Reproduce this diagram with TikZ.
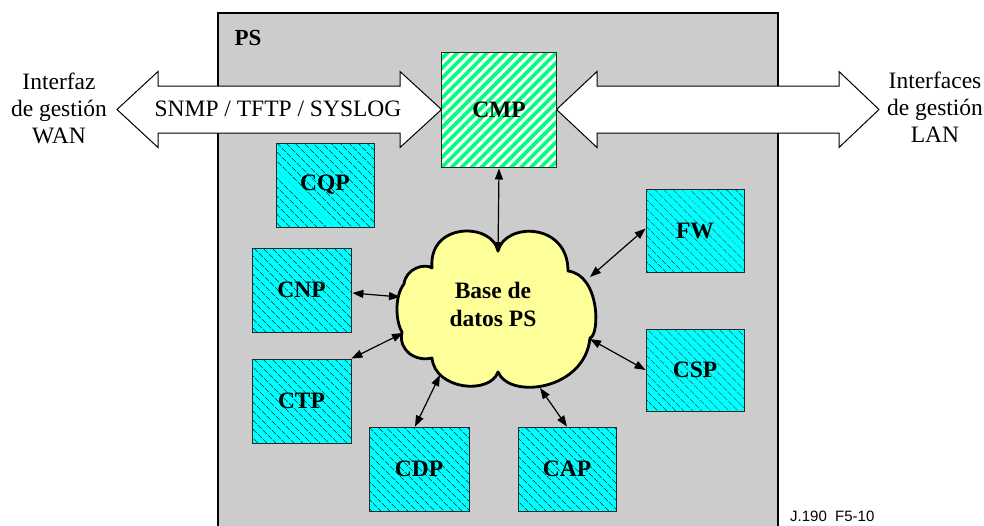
\documentclass[tikz,border=0pt]{standalone}
\usepackage{fontspec}
\setmainfont{Liberation Serif}
\newfontfamily\sansf{Liberation Sans}
\usetikzlibrary{patterns.meta,arrows.meta,calc}
\definecolor{psgray}{HTML}{CCCCCC}
\definecolor{cmpgreen}{HTML}{00FF80}
\definecolor{cloudy}{HTML}{FFFF99}
\definecolor{boxcyan}{HTML}{00FFFF}
\begin{document}
\begin{tikzpicture}[x=1pt,y=-1pt,
  unitbox/.style={draw=black!85, line width=0.8pt, minimum width=98pt, minimum height=84pt, inner sep=0pt,
    font=\bfseries\fontsize{23.5}{27}\selectfont,
    preaction={fill=boxcyan},
    pattern={Lines[angle=-45,distance=6.5pt,line width=0.5pt]}, pattern color=black},
  cmpbox/.style={draw=black!85, line width=0.8pt, minimum width=115pt, minimum height=115pt, inner sep=0pt,
    font=\bfseries\fontsize{23.5}{27}\selectfont,
    preaction={fill=cmpgreen},
    pattern={Lines[angle=45,distance=7pt,line width=3pt]}, pattern color=white},
  bigarrow/.style={draw=black, line width=1pt, fill=white},
  lbl/.style={font=\fontsize{23.5}{27}\selectfont, align=center, inner sep=0pt},
  link/.style={line width=1.2pt, {Triangle[length=11pt,width=8pt]}-{Triangle[length=11pt,width=8pt]}}
]
\useasboundingbox (0,0) rectangle (984,525);
\clip (0,0) rectangle (984,525);
% PS area
\draw[fill=psgray, line width=1.2pt] (218,13) rectangle (778,560);
\node[font=\bfseries\fontsize{23}{27}\selectfont, inner sep=0pt] (ps) at (248,38) {PS};
% big arrows
\draw[bigarrow] (117,109.5) -- (158,71.5) -- (158,86) -- (400,86) -- (400,71.5) -- (441.5,109.5)
  -- (400,147.5) -- (400,133) -- (158,133) -- (158,147.5) -- cycle;
\draw[bigarrow] (556.5,109.5) -- (597,71.5) -- (597,86) -- (839,86) -- (839,71.5) -- (879,109.5)
  -- (839,147.5) -- (839,133) -- (597,133) -- (597,147.5) -- cycle;
\node[lbl] (proto) at (278,109) {SNMP / TFTP / SYSLOG};
\node[lbl] (wan) at (59,108) {Interfaz\\de gestión\\WAN};
\node[lbl] (lan) at (935,107) {Interfaces\\de gestión\\LAN};
% boxes
\node[cmpbox] (CMP) at (499,109.5) {CMP};
\node[unitbox] (CQP) at (325,185) {CQP};
\node[unitbox, minimum width=99pt] (CNP) at (301.5,290) {CNP};
\node[unitbox, minimum width=99pt] (CTP) at (301.5,401) {CTP};
\node[unitbox, minimum width=100pt] (CDP) at (419,469) {CDP};
\node[unitbox] (CAP) at (567,469) {CAP};
\node[unitbox, minimum height=83pt] (FW) at (695,230.5) {FW};
\node[unitbox, minimum height=82pt] (CSP) at (695,370) {CSP};
% cloud
\draw[fill=cloudy, line width=2.8pt, line join=round]
  (498,251) .. controls (505,222) and (568,222) .. (568,271)
  .. controls (600,275) and (600,335) .. (590,338)
  .. controls (585,390) and (510,400) .. (498,372)
  .. controls (490,395) and (435,390) .. (432,358)
  .. controls (415,362) and (398,350) .. (402,332)
  .. controls (395,320) and (395,295) .. (404,284)
  .. controls (406,268) and (425,263) .. (432,268)
  .. controls (428,222) and (492,222) .. (498,251) -- cycle;
\node[lbl, font=\bfseries\fontsize{23.5}{28}\selectfont] (db) at (493,304) {Base de\\datos PS};
\coordinate (dT) at (498,253);
\coordinate (dCNP) at (400,297);
\coordinate (dCTP) at (403,333);
\coordinate (dCDP) at (440,375);
\coordinate (dCAP) at (540,388);
\coordinate (dCSP) at (590,339);
\coordinate (dFW) at (590,277);
% links
\draw[link] (CMP.south) -- (dT);
\draw[link] ($(CNP.east)+(1,3)$) -- (dCNP);
\draw[link] (CTP.north east) -- (dCTP);
\draw[link] ($(CDP.north)+(-4,0)$) -- (dCDP);
\draw[link] (CAP.north) -- (dCAP);
\draw[link] (CSP.west) -- (dCSP);
\draw[link] ($(FW.west)+(0,-2)$) -- (dFW);
\node[font=\sansf\fontsize{15}{18}\selectfont, anchor=base west, inner sep=0pt] (ref) at (790,521) {J.190\kern0.556em F5-10};
\end{tikzpicture}
\end{document}
